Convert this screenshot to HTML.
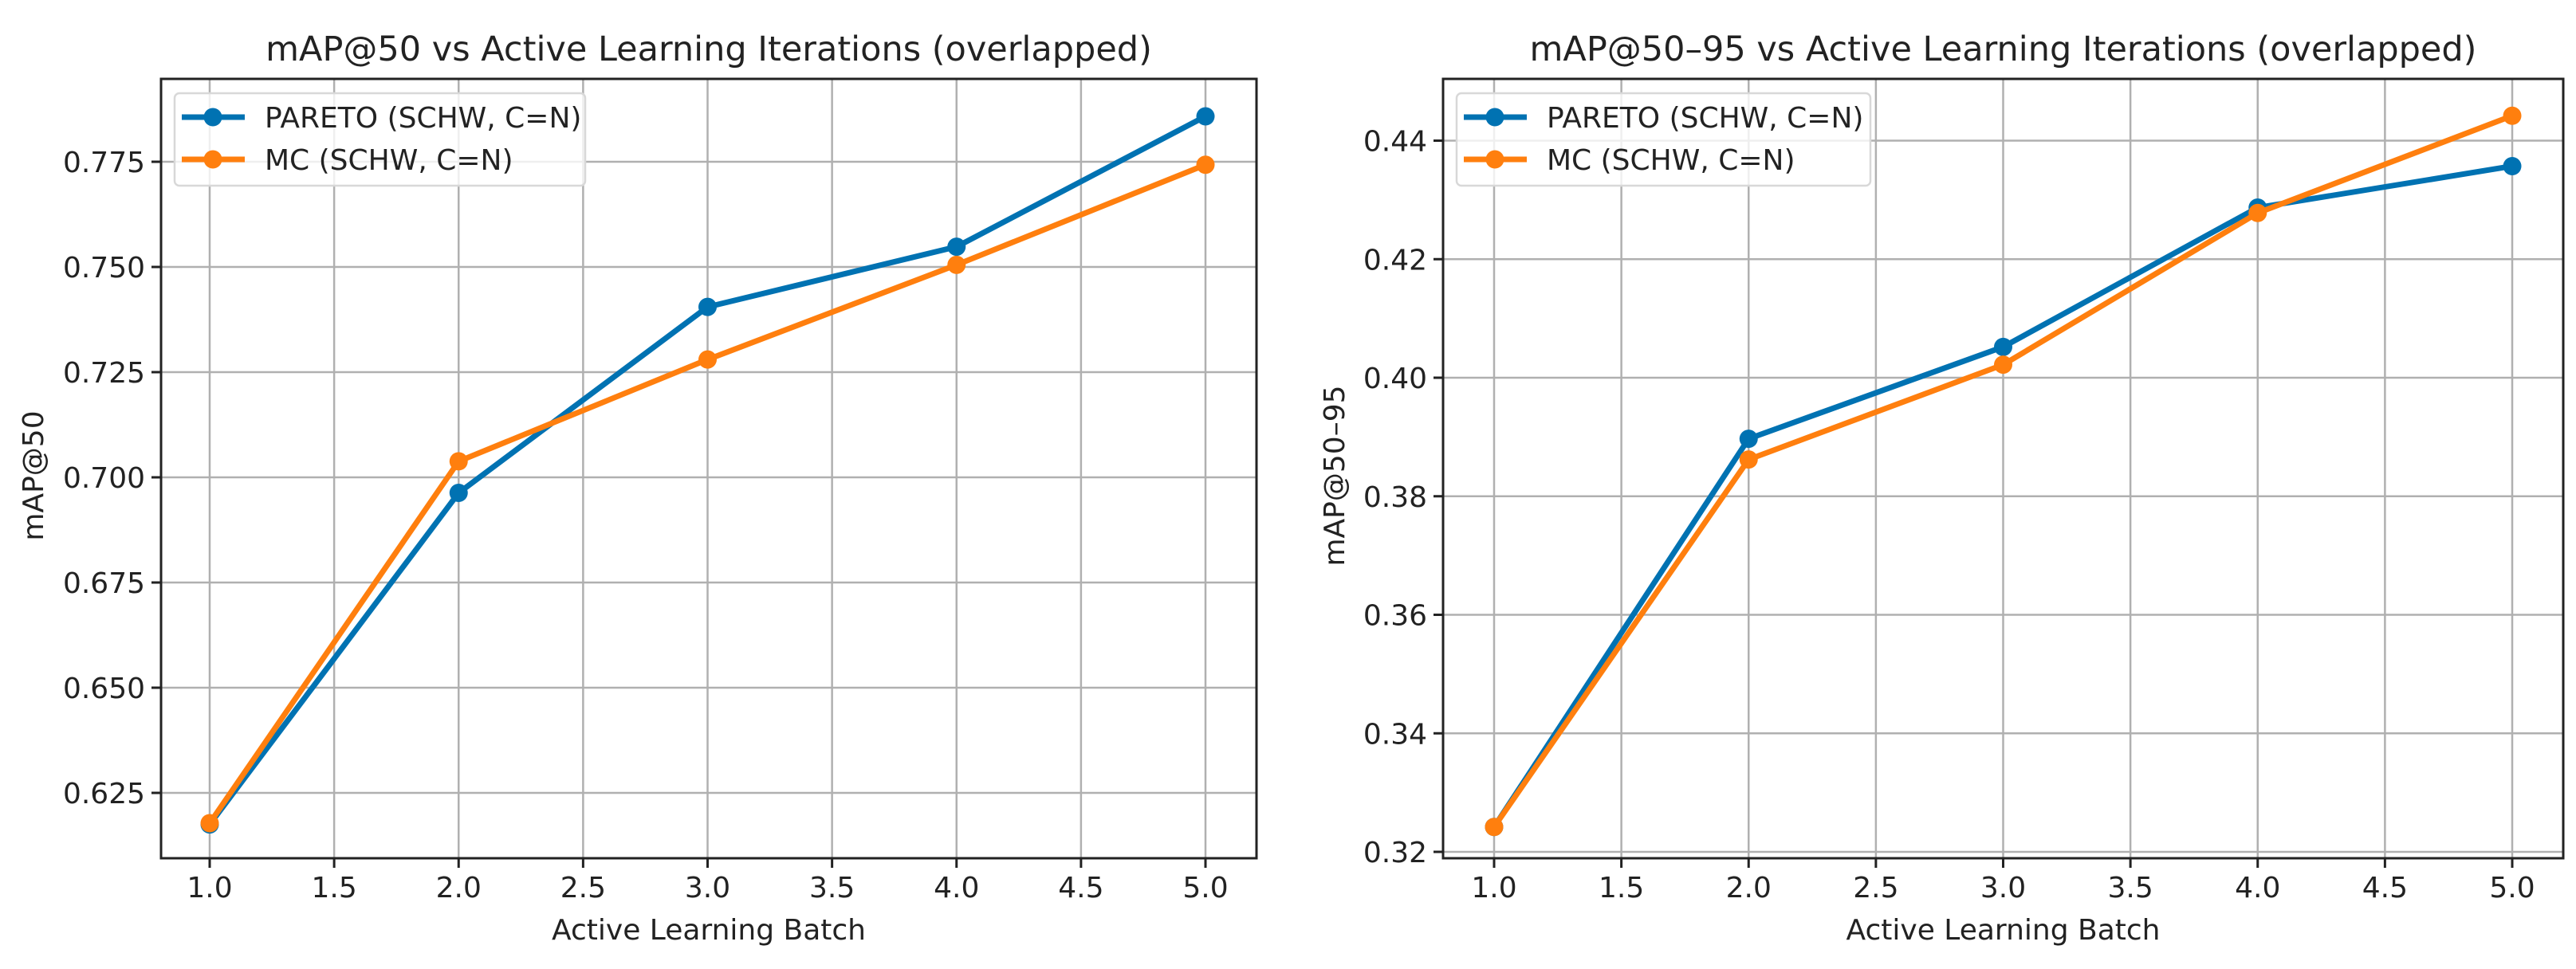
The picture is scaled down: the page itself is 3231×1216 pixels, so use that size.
<!DOCTYPE html>
<html><head><meta charset="utf-8"><style>
html,body{margin:0;padding:0;background:#fff}
svg{display:block}
text{font-family:"DejaVu Sans","Liberation Sans",sans-serif;fill:#222}
</style></head><body>
<svg id="fig" width="3231" height="1216" viewBox="0 0 3231 1216" xmlns="http://www.w3.org/2000/svg"></svg>
<script>
const batches = [1, 2, 3, 4, 5];
const xTicks = [1.0, 1.5, 2.0, 2.5, 3.0, 3.5, 4.0, 4.5, 5.0];
const paretoMap50 = [0.6175, 0.6963, 0.7405, 0.7548, 0.7858];
const mcMap50 = [0.6178, 0.7038, 0.7280, 0.7505, 0.7743];
const paretoMap5095 = [0.3242, 0.3897, 0.4052, 0.4287, 0.4357];
const mcMap5095 = [0.3242, 0.3862, 0.4022, 0.4278, 0.4442];
const yTicksLeft = [0.625, 0.650, 0.675, 0.700, 0.725, 0.750, 0.775];
const yTicksRight = [0.32, 0.34, 0.36, 0.38, 0.40, 0.42, 0.44];
const seriesNames = ["PARETO (SCHW, C=N)", "MC (SCHW, C=N)"];
const colors = ["#0072B2", "#FF7F0E"];

const NS = "http://www.w3.org/2000/svg";
const svg = document.getElementById("fig");
function mk(tag, attrs, parent, txt){
  const e = document.createElementNS(NS, tag);
  for (const k in attrs) e.setAttribute(k, attrs[k]);
  if (txt !== undefined) e.textContent = txt;
  (parent || svg).appendChild(e);
  return e;
}

function panel(cfg){
  const g = mk("g", {});
  
  
  const xs = v => cfg.x1px + (v - 1) * (cfg.x5px - cfg.x1px) / 4;
  const ys = v => cfg.yAp + (v - cfg.yA) * (cfg.yBp - cfg.yAp) / (cfg.yB - cfg.yA);
  // grid
  xTicks.forEach(t => {
    const l = mk("line", {x1: xs(t), x2: xs(t), y1: cfg.top, y2: cfg.bottom, stroke: "#b0b0b0", "stroke-width": 2.5}, g);
    
    
    const tk = mk("line", {x1: xs(t), x2: xs(t), y1: cfg.bottom, y2: cfg.bottom + 12, stroke: "#222", "stroke-width": 3}, g);
    
    
    const tl = mk("text", {x: xs(t), y: cfg.bottom + 49, "font-size": 36, "text-anchor": "middle"}, g, t.toFixed(1));
    
    
  });
  cfg.yTicks.forEach(t => {
    const y = ys(t);
    const l = mk("line", {x1: cfg.left, x2: cfg.right, y1: y, y2: y, stroke: "#b0b0b0", "stroke-width": 2.5}, g);
    
    
    const tk = mk("line", {x1: cfg.left - 12, x2: cfg.left, y1: y, y2: y, stroke: "#222", "stroke-width": 3}, g);
    
    
    const tl = mk("text", {x: cfg.left - 20, y: y + 13, "font-size": 36, "text-anchor": "end"}, g, t.toFixed(cfg.dec));
    
    
  });
  // series
  cfg.series.forEach((vals, si) => {
    const pts = vals.map((v, i) => xs(batches[i]) + "," + ys(v)).join(" ");
    const pl = mk("polyline", {points: pts, fill: "none", stroke: colors[si], "stroke-width": 7, "stroke-linejoin": "round"}, g);
    
    
    vals.forEach((v, i) => {
      const c = mk("circle", {cx: xs(batches[i]), cy: ys(v), r: 11.5, fill: colors[si]}, g);
      
      
    });
  });
  // frame
  const fr = mk("rect", {x: cfg.left, y: cfg.top, width: cfg.right - cfg.left, height: cfg.bottom - cfg.top, fill: "none", stroke: "#222", "stroke-width": 3}, g);
  
  
  // legend
  const lg = mk("g", {}, g);
  
  
  mk("rect", {x: cfg.legL, y: 117, width: cfg.legR - cfg.legL, height: 116, rx: 6, fill: "rgba(255,255,255,0.8)", stroke: "#d8d8d8", "stroke-width": 2.5}, lg);
  seriesNames.forEach((n, si) => {
    const ey = 147 + si * 53;
    const e = mk("g", {}, lg);
    
    
    mk("line", {x1: cfg.legL + 9, x2: cfg.legL + 88, y1: ey, y2: ey, stroke: colors[si], "stroke-width": 7}, e);
    mk("circle", {cx: cfg.legL + 48, cy: ey, r: 11.5, fill: colors[si]}, e);
    mk("text", {x: cfg.legL + 113, y: ey + 13, "font-size": 36}, e, n);
  });
  const tt = mk("text", {x: (cfg.left + cfg.right) / 2, y: 76, "font-size": 43, "text-anchor": "middle"}, g, cfg.title);
  
  
  const xl = mk("text", {x: (cfg.left + cfg.right) / 2, y: 1179, "font-size": 36, "text-anchor": "middle"}, g, "Active Learning Batch");
  
  
  const yl = mk("text", {x: 0, y: 0, "font-size": 36, "text-anchor": "middle", transform: "translate(" + cfg.ylx + ",597) rotate(-90)"}, g, cfg.ylabel);
  
  
}

panel({name: "map50-chart", left: 202, right: 1576, top: 99, bottom: 1077, x1px: 263, x5px: 1512,
  yA: 0.625, yAp: 995, yB: 0.775, yBp: 203, yTicks: yTicksLeft, dec: 3,
  series: [paretoMap50, mcMap50], legL: 219, legR: 734,
  title: "mAP@50 vs Active Learning Iterations (overlapped)", ylabel: "mAP@50", ylx: 54});
panel({name: "map50-95-chart", left: 1810, right: 3215, top: 99, bottom: 1077, x1px: 1874, x5px: 3151,
  yA: 0.32, yAp: 1069, yB: 0.44, yBp: 176.5, yTicks: yTicksRight, dec: 2,
  series: [paretoMap5095, mcMap5095], legL: 1827, legR: 2346,
  title: "mAP@50–95 vs Active Learning Iterations (overlapped)", ylabel: "mAP@50–95", ylx: 1686});
</script>
</body></html>
